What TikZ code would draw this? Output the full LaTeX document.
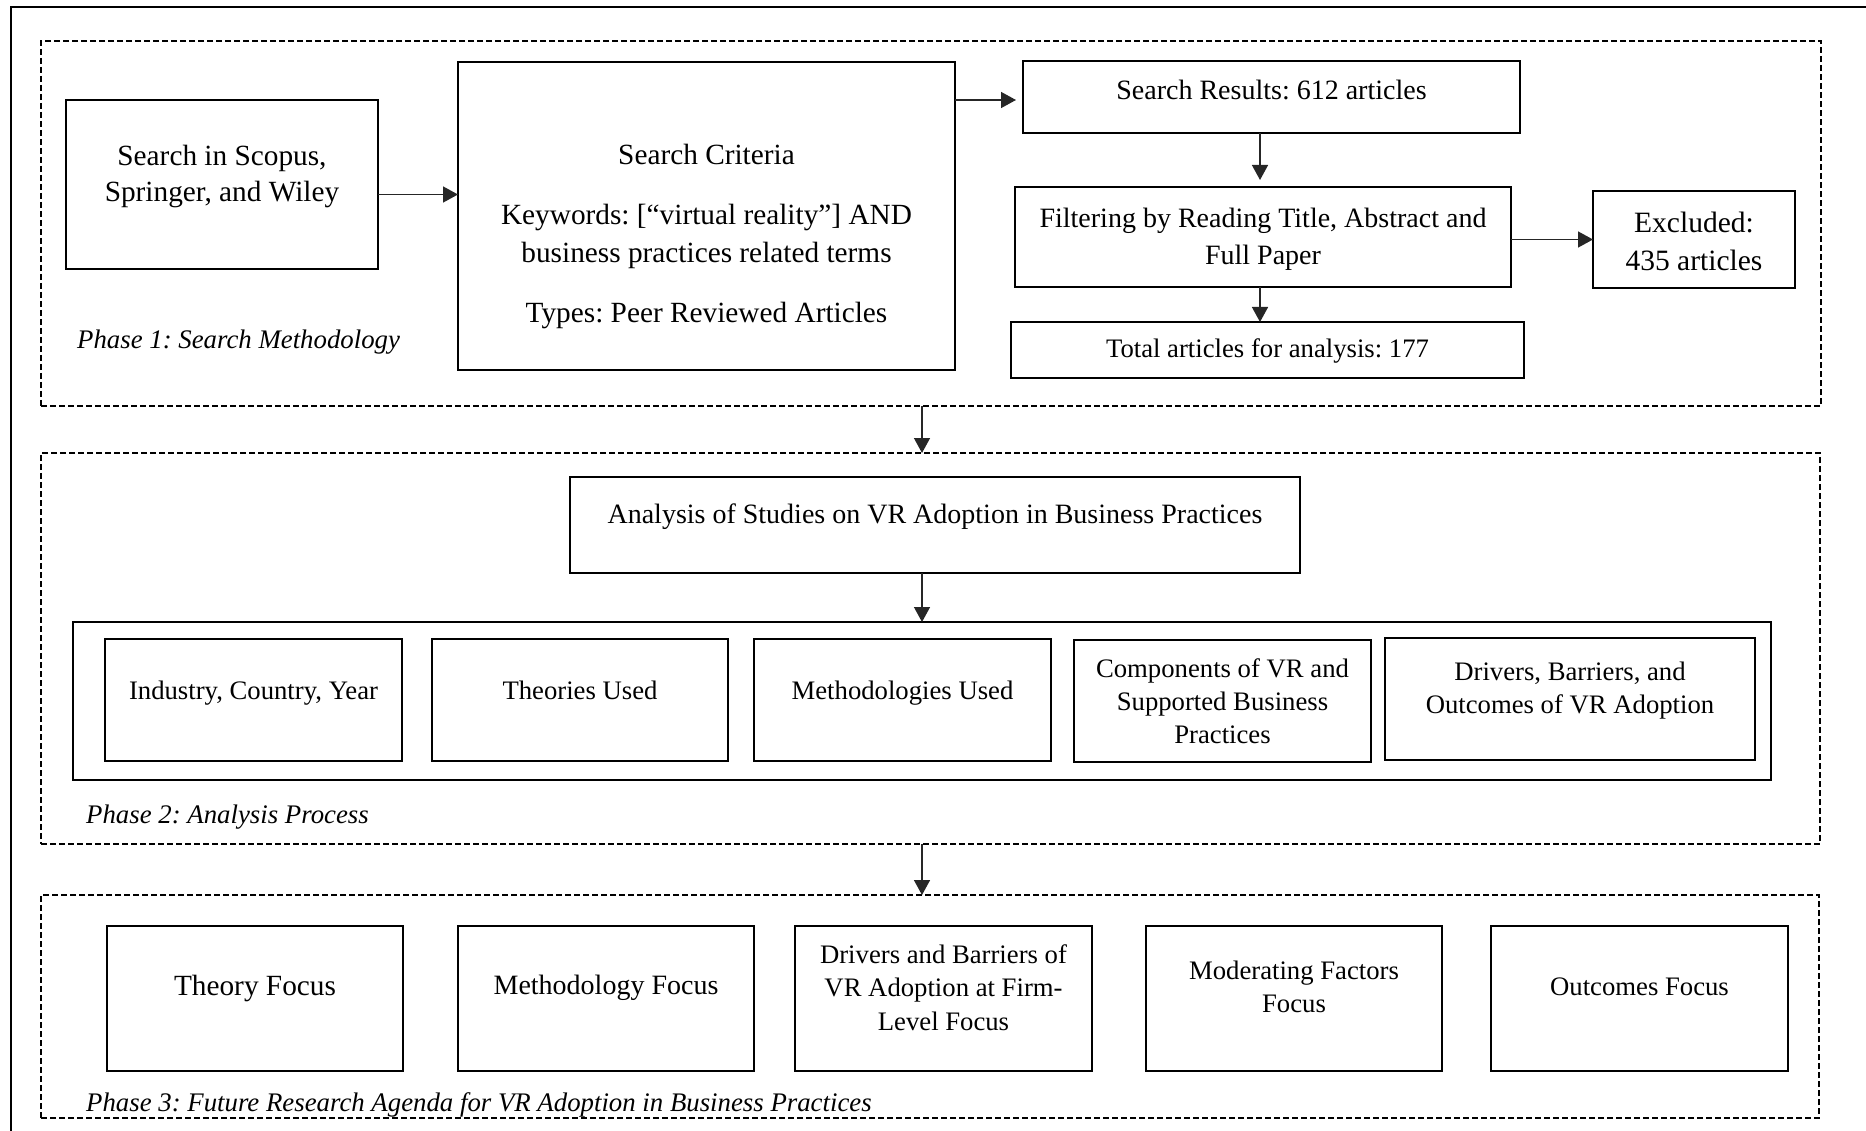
\documentclass[tikz,border=0pt]{standalone}
\usepackage{fontspec}
\setmainfont{Liberation Serif}
\usetikzlibrary{arrows.meta}
\frenchspacing

% box from corner (x1,y1) to corner (x2,y2), in picture units
\newcommand\bx[6][box]{\node[#1, minimum width={#5-#3}, minimum height={#6-#4}] (#2) at ({(#3+#5)/2},{(#4+#6)/2}) {};}

\begin{document}
\begin{tikzpicture}[x=1pt,y=-1pt,
  box/.style={draw=black, line width=2.7pt, inner sep=0pt, outer sep=0pt},
  phasebox/.style={draw=black, line width=2.4pt, dash pattern=on 6pt off 3pt, inner sep=0pt, outer sep=0pt},
  txt/.style={inner sep=0pt, align=center, text=black},
  fA/.style={font=\fontsize{29.3}{36.5}\selectfont},
  fB/.style={font=\fontsize{28}{37}\selectfont},
  fC/.style={font=\fontsize{26.7}{33}\selectfont},
  plabel/.style={inner sep=0pt, anchor=west, font=\fontsize{26.8}{32}\selectfont\itshape},
  arr/.style={draw=black!85, line width=1.5pt, -{Triangle[length=15pt,width=16pt]}},
]
\useasboundingbox (0,0) rectangle (1866,1131);

% outer frame
\draw[line width=2.8pt] (1866,7) -- (11,7) -- (11,1131);

% phase frames
\bx[phasebox]{ph1}{41}{41}{1821}{406}
\bx[phasebox]{ph2}{41}{453}{1820}{844}
\bx[phasebox]{ph3}{41}{895}{1819}{1118}

% phase 1: search methodology
\bx{A}{66}{100}{378}{269}
\bx{B}{458}{62}{955}{370}
\bx{SR}{1023}{61}{1520}{133}
\bx{F}{1015}{187}{1511}{287}
\bx{Ex}{1593}{191}{1795}{288}
\bx{T}{1011}{322}{1524}{378}

\node[txt,fA] (tA) at (222,176.5) {Search in Scopus,\\Springer, and Wiley};
\node[txt,font=\fontsize{29.3}{38}\selectfont] (tB) at (706.5,236)
  {Search Criteria\\[22pt]Keywords: [“virtual reality”] AND\\business practices related terms\\[22pt]Types: Peer Reviewed Articles};
\node[txt,fB] (tSR) at (1271.5,89.5) {Search Results: 612 articles};
\node[txt,fB] (tF) at (1263,239.5) {Filtering by Reading Title, Abstract and\\Full Paper};
\node[txt,font=\fontsize{29.5}{38}\selectfont] (tEx) at (1694,241) {Excluded:\\435 articles};
\node[txt,fC] (tT) at (1267.5,350.5) {Total articles for analysis: 177};
\node[plabel] (l1) at (77,342.5) {Phase 1: Search Methodology};

% phase 2: analysis process
\bx{An}{570}{477}{1300}{573}
\bx{C}{73}{622}{1771}{780}
\bx{I1}{105}{639}{402}{761}
\bx{I2}{432}{639}{728}{761}
\bx{I3}{754}{639}{1051}{761}
\bx{I4}{1074}{640}{1371}{762}
\bx{I5}{1385}{638}{1755}{760}

\node[txt,fB] (tAn) at (935,516.5) {Analysis of Studies on VR Adoption in Business Practices};
\node[txt,fC] (tI1) at (253.5,693) {Industry, Country, Year};
\node[txt,fC] (tI2) at (580,690.5) {Theories Used};
\node[txt,fC] (tI3) at (902.5,693) {Methodologies Used};
\node[txt,fC] (tI4) at (1222.5,701.5) {Components of VR and\\Supported Business\\Practices};
\node[txt,fC] (tI5) at (1570,690.5) {Drivers, Barriers, and\\Outcomes of VR Adoption};
\node[plabel] (l2) at (86,817.5) {Phase 2: Analysis Process};

% phase 3: future research agenda
\bx{P1}{107}{926}{403}{1071}
\bx{P2}{458}{926}{754}{1071}
\bx{P3}{795}{926}{1092}{1071}
\bx{P4}{1146}{926}{1442}{1071}
\bx{P5}{1491}{926}{1788}{1071}

\node[txt,fA] (tP1) at (255,988.5) {Theory Focus};
\node[txt,fB] (tP2) at (606,988) {Methodology Focus};
\node[txt,font=\fontsize{26.7}{33.5}\selectfont] (tP3) at (943.5,987.5) {Drivers and Barriers of\\VR Adoption at Firm-\\Level Focus};
\node[txt,fC] (tP4) at (1294,986.5) {Moderating Factors\\Focus};
\node[txt,fC] (tP5) at (1639.5,986.5) {Outcomes Focus};
\node[plabel] (l3) at (86,1104.5) {Phase 3: Future Research Agenda for VR Adoption in Business Practices};

% connectors
\coordinate (midx) at (922,0);
\coordinate (colx) at (1260,0);
\coordinate (aAB) at ([yshift=-10pt]A.east);
\coordinate (aBS) at ([yshift=-3pt]SR.west);

\draw[arr] (aAB) -- (aAB -| B.west);
\draw[arr, shorten >=7pt] (aBS -| B.east) -- (aBS);
\draw[arr, shorten >=7pt] (SR.south -| colx) -- (F.north -| colx);
\draw[arr] (F.south -| colx) -- (T.north -| colx);
\draw[arr] (F.east |- Ex.west) -- (Ex.west);
\draw[arr] (ph1.south -| midx) -- (ph2.north -| midx);
\draw[arr] (An.south -| midx) -- (C.north -| midx);
\draw[arr] (ph2.south -| midx) -- (ph3.north -| midx);
\end{tikzpicture}
\end{document}
